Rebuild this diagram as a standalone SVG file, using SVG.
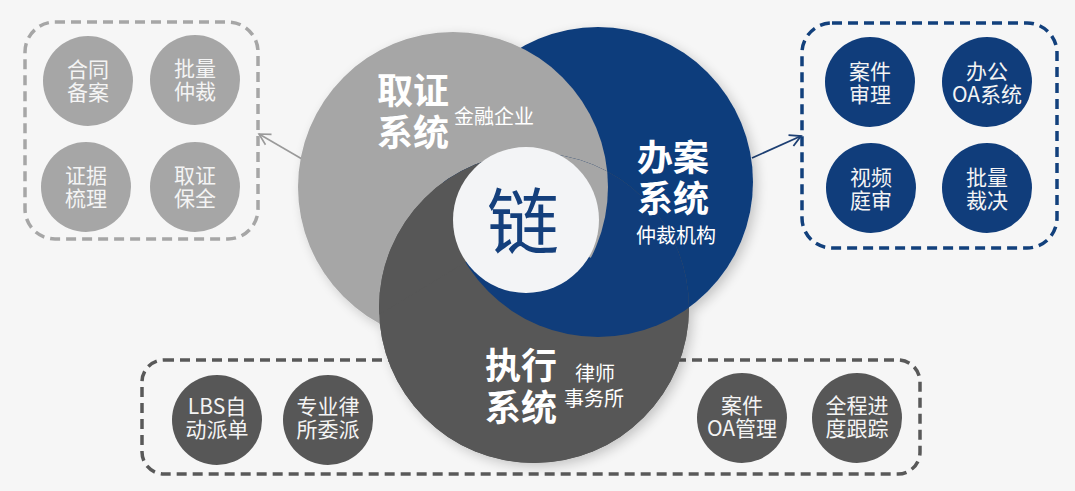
<svg xmlns="http://www.w3.org/2000/svg" width="1075" height="491" viewBox="0 0 1075 491">
<style>
.t{font-family:"Noto Sans CJK SC","Liberation Sans",sans-serif;text-anchor:middle;fill:#ffffff}
.big{font-size:36px;font-weight:700}
.sub{font-size:20px;font-weight:400}
.sm{font-size:21px;font-weight:400;fill:#f4f4f4}
.box{fill:none;stroke-width:3.5;stroke-dasharray:10 6;stroke-linecap:butt}
.lg{fill:#a6a6a6}
.nv{fill:#103d7b}
.dg{fill:#575757}
</style>
<defs>
<clipPath id="clipA"><circle cx="453" cy="187" r="155"/></clipPath>
<clipPath id="clipB"><circle cx="598" cy="182" r="155"/></clipPath>
<clipPath id="clipC"><circle cx="534" cy="308" r="155"/></clipPath>
<filter id="shadow" x="-20%" y="-20%" width="140%" height="140%">
<feGaussianBlur in="SourceAlpha" stdDeviation="6"/>
<feOffset dx="4" dy="4" result="b"/>
<feComponentTransfer><feFuncA type="linear" slope="0.2"/></feComponentTransfer>
<feMerge><feMergeNode/><feMergeNode in="SourceGraphic"/></feMerge>
</filter>
<marker id="arrG" markerUnits="userSpaceOnUse" markerWidth="16" markerHeight="16" refX="13" refY="8" orient="auto">
<polyline points="2,2 13,8 2,14" fill="none" stroke="#9a9a9a" stroke-width="1.6"/>
</marker>
<marker id="arrN" markerUnits="userSpaceOnUse" markerWidth="16" markerHeight="16" refX="13" refY="8" orient="auto">
<polyline points="2,2 13,8 2,14" fill="none" stroke="#1d3f73" stroke-width="1.8"/>
</marker>
</defs>
<rect x="0" y="0" width="1075" height="491" fill="#f6f6f6"/>

<g id="connectors">
<line x1="302" y1="159" x2="259" y2="134" stroke="#9a9a9a" stroke-width="1.6" marker-end="url(#arrG)"/>
<line x1="752" y1="158" x2="801" y2="136" stroke="#1d3f73" stroke-width="1.8" marker-end="url(#arrN)"/>
</g>

<g id="evidence-box">
<rect class="box" x="25" y="22" width="233" height="217" rx="30" stroke="#a6a6a6"/>
<g id="n-hetong"><circle class="lg" cx="88" cy="81" r="45"/><text class="t sm"><tspan x="88" y="77">合同</tspan><tspan x="88" y="100">备案</tspan></text></g>
<g id="n-piliang"><circle class="lg" cx="195" cy="80" r="45"/><text class="t sm"><tspan x="195" y="76">批量</tspan><tspan x="195" y="99">仲裁</tspan></text></g>
<g id="n-zhengju"><circle class="lg" cx="86" cy="187" r="45"/><text class="t sm"><tspan x="86" y="183">证据</tspan><tspan x="86" y="206">梳理</tspan></text></g>
<g id="n-quzheng"><circle class="lg" cx="195" cy="187" r="45"/><text class="t sm"><tspan x="195" y="183">取证</tspan><tspan x="195" y="206">保全</tspan></text></g>
</g>

<g id="case-box">
<rect class="box" x="802" y="23" width="255" height="225" rx="30" stroke="#12407c"/>
<g id="n-anjian"><circle class="nv" cx="870" cy="82" r="45"/><text class="t sm"><tspan x="870" y="79">案件</tspan><tspan x="870" y="102">审理</tspan></text></g>
<g id="n-bangong"><circle class="nv" cx="987" cy="82" r="45"/><text class="t sm"><tspan x="987" y="79">办公</tspan><tspan x="987" y="102">OA系统</tspan></text></g>
<g id="n-shipin"><circle class="nv" cx="871" cy="188" r="45"/><text class="t sm"><tspan x="871" y="185">视频</tspan><tspan x="871" y="208">庭审</tspan></text></g>
<g id="n-caijue"><circle class="nv" cx="987" cy="188" r="45"/><text class="t sm"><tspan x="987" y="185">批量</tspan><tspan x="987" y="208">裁决</tspan></text></g>
</g>

<g id="exec-box">
<rect class="box" x="142" y="360" width="778" height="114" rx="22" stroke="#595959"/>
<g id="n-lbs"><circle class="dg" cx="217" cy="420" r="45"/><text class="t sm"><tspan x="217" y="414">LBS自</tspan><tspan x="217" y="437">动派单</tspan></text></g>
<g id="n-zhuanye"><circle class="dg" cx="328" cy="420" r="45"/><text class="t sm"><tspan x="328" y="414">专业律</tspan><tspan x="328" y="437">所委派</tspan></text></g>
<g id="n-oa"><circle class="dg" cx="742" cy="418" r="45"/><text class="t sm"><tspan x="742" y="413">案件</tspan><tspan x="742" y="436">OA管理</tspan></text></g>
<g id="n-quancheng"><circle class="dg" cx="857" cy="418" r="45"/><text class="t sm"><tspan x="857" y="413">全程进</tspan><tspan x="857" y="436">度跟踪</tspan></text></g>
</g>

<g id="core">
<g filter="url(#shadow)">
<circle class="dg" cx="534" cy="308" r="155"/>
<circle class="nv" cx="598" cy="182" r="155"/>
<circle class="lg" cx="453" cy="187" r="155"/>
</g>
<g clip-path="url(#clipC)">
<rect class="dg" x="370" y="145" width="330" height="330"/>
<g clip-path="url(#clipB)">
<rect class="nv" x="370" y="20" width="400" height="330"/>
<g clip-path="url(#clipA)">
<polygon class="lg" points="527,225 501.4,-73.9 775.7,57.3 793.6,362.6"/>
</g>
</g>
<g clip-path="url(#clipA)">
<polygon class="dg" points="527,225 270.4,380.4 259.7,88.8 501.4,-73.9"/>
</g>
</g>
<circle cx="526" cy="220" r="73" fill="#f3f4f6"/>
<text x="523" y="248" font-family="Noto Sans CJK SC, Liberation Sans, sans-serif" font-size="72" text-anchor="middle" fill="#143f7c">链</text>
</g>

<g id="sys-evidence">
<text class="t big"><tspan x="413" y="104">取证</tspan><tspan x="413" y="146">系统</tspan></text>
<text class="t sub" x="494" y="124">金融企业</text>
</g>
<g id="sys-case">
<text class="t big"><tspan x="673" y="171">办案</tspan><tspan x="673" y="212">系统</tspan></text>
<text class="t sub" x="676" y="243">仲裁机构</text>
</g>
<g id="sys-exec">
<text class="t big"><tspan x="521" y="379">执行</tspan><tspan x="521" y="421">系统</tspan></text>
<text class="t sub"><tspan x="595" y="381">律师</tspan><tspan x="594" y="406">事务所</tspan></text>
</g>
</svg>
